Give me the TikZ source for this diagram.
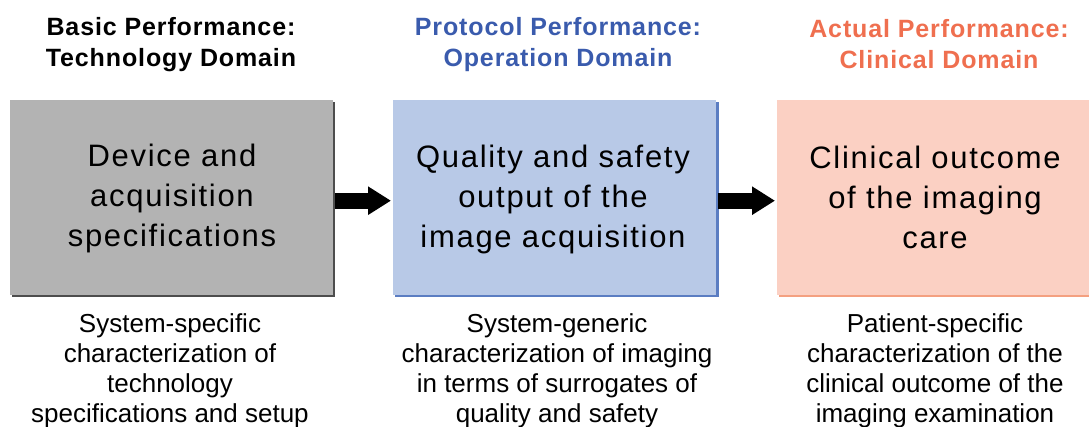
\documentclass[tikz,border=0pt]{standalone}
\usepackage{fontspec}
\setmainfont{Liberation Sans}
\usetikzlibrary{arrows.meta}
\definecolor{boxgray}{HTML}{B3B3B3}
\definecolor{shgray}{HTML}{4D4D4D}
\definecolor{boxblue}{HTML}{B8C9E7}
\definecolor{shblue}{HTML}{5B7DC2}
\definecolor{boxpink}{HTML}{FBD0C3}
\definecolor{shpink}{HTML}{F4A080}
\definecolor{ttlblue}{HTML}{3A5BAD}
\definecolor{ttlorange}{HTML}{EF6F4F}
\tikzset{
  domainbox/.style={rectangle, minimum width=323pt, minimum height=195pt, inner sep=0pt},
  boxtext/.style={align=center, inner sep=0pt, font=\fontsize{31}{40}\selectfont\addfontfeature{LetterSpace=5.5}},
  titletext/.style={align=center, inner sep=0pt, font=\bfseries\fontsize{25}{31}\selectfont\addfontfeature{LetterSpace=3.5}},
  desctext/.style={align=center, anchor=north, inner sep=0pt, font=\fontsize{26}{30.3}\selectfont},
  flowarrow/.style={line width=16pt, -{Triangle[length=23pt,width=27pt]}, shorten <=2pt, shorten >=2pt},
}
\begin{document}
\begin{tikzpicture}[x=1pt,y=-1pt]
\useasboundingbox (0,0) rectangle (1089,427);
% shadows
\fill[shgray] (12,102) rectangle (335,297);
\fill[shblue] (395,102) rectangle (719,297);
\fill[shpink] (779,102) rectangle (1091,297);
% boxes
\node[domainbox, fill=boxgray, anchor=north west] (b1) at (10,100) {};
\node[domainbox, fill=boxblue, anchor=north west] (b2) at (393,100) {};
\node[domainbox, fill=boxpink, anchor=north west, minimum width=313pt] (b3) at (777,100) {};
% box texts
\node[boxtext] (t1) at (172,198) {Device and\\acquisition\\specifications};
\node[boxtext] (t2) at (553,199) {Quality and safety\\output of the\\image acquisition};
\node[boxtext] (t3) at (935,197.5) {Clinical outcome\\of the imaging\\care};
% titles
\node[titletext] (h1) at (171,44.5) {Basic Performance:\\Technology Domain};
\node[titletext, text=ttlblue] (h2) at (558,44.5) {Protocol Performance:\\Operation Domain};
\node[titletext, text=ttlorange] (h3) at (939,44.5) {Actual Performance:\\Clinical Domain};
% descriptions
\node[desctext] (d1) at (170,313) {System-specific\\characterization of\\technology\\specifications and setup};
\node[desctext] (d2) at (557,313) {System-generic\\characterization of imaging\\in terms of surrogates of\\quality and safety};
\node[desctext] (d3) at (935,313) {Patient-specific\\characterization of the\\clinical outcome of the\\imaging examination};
% arrows
\draw[flowarrow] ([yshift=-3pt]b1.east) -- ([yshift=-3pt]b2.west);
\draw[flowarrow] ([yshift=-3pt]b2.east) -- ([yshift=-3pt]b3.west);
\end{tikzpicture}
\end{document}
